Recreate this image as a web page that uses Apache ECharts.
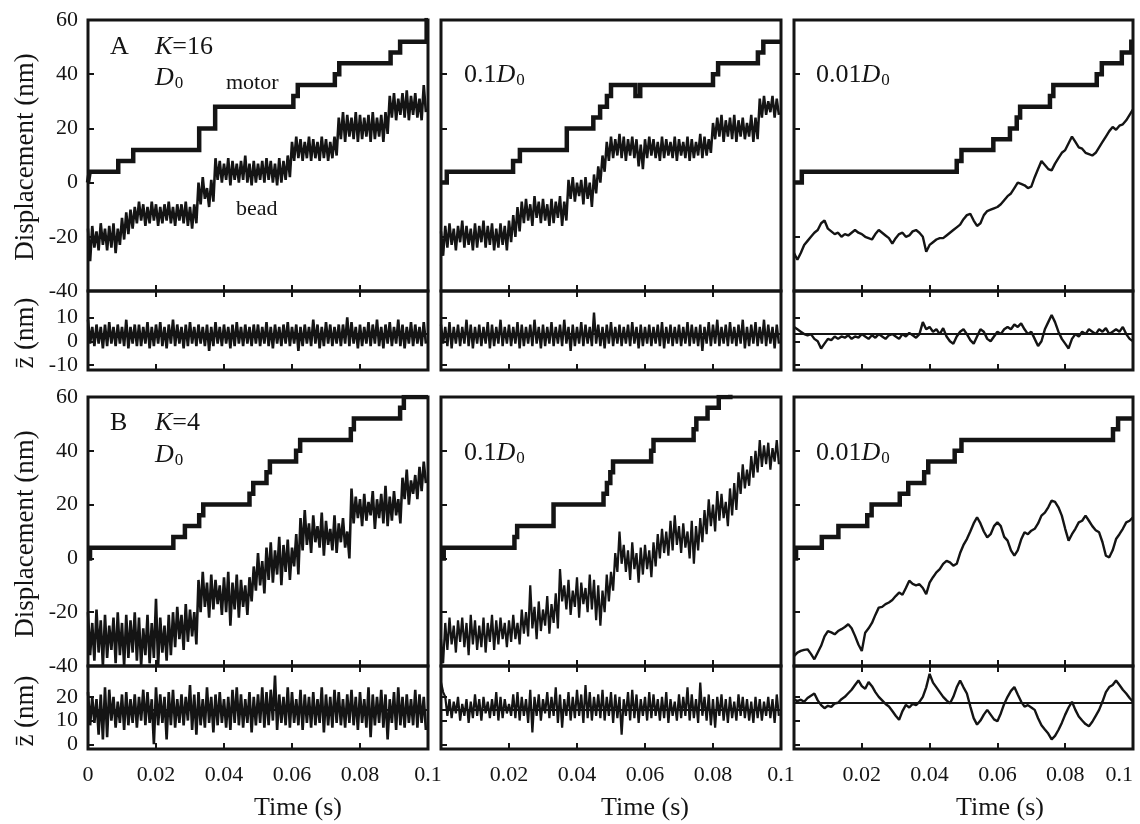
<!DOCTYPE html>
<html>
<head>
<meta charset="utf-8">
<script src="https://cdn.jsdelivr.net/npm/echarts@6/dist/echarts.min.js"></script>
<style>html,body{margin:0;background:#fff}#main{width:1140px;height:824px}</style>
</head>
<body>
<div id="main"></div>
<script>
// tick values
var timeTicks = [0, 0.02, 0.04, 0.06, 0.08, 0.1];
var timeLabelsB = [0.02, 0.04, 0.06, 0.08, 0.1];
var dispTicks = [-40, -20, 0, 20, 40, 60];
var zTicksA = [-10, 0, 10];
var zTicksB = [0, 10, 20];

// motor steps (time s, level nm)
var mA1T = [0, 0.0005, 0.0089, 0.0133, 0.0327, 0.0374, 0.0604, 0.0617, 0.0726, 0.0739, 0.089, 0.0918, 0.0996, 0.1];
var mA1Y = [0, 4, 8, 12, 20, 28, 32, 36, 40, 44, 48, 52, 60, 60];
var mA2T = [0, 0.0017, 0.0212, 0.0232, 0.037, 0.0448, 0.0468, 0.0488, 0.05, 0.0572, 0.0586, 0.08, 0.0815, 0.0932, 0.0948, 0.1];
var mA2Y = [0, 4, 8, 12, 20, 24, 28, 32, 36, 32, 36, 40, 44, 48, 52, 52];
var mA3T = [0, 0.0023, 0.048, 0.0494, 0.0588, 0.0637, 0.0657, 0.0667, 0.0755, 0.0765, 0.0893, 0.0908, 0.0967, 0.0995, 0.1];
var mA3Y = [0, 4, 8, 12, 16, 20, 24, 28, 32, 36, 40, 44, 48, 52, 52];
var mB1T = [0, 0.0006, 0.0251, 0.0285, 0.0327, 0.0339, 0.0475, 0.0486, 0.0525, 0.0535, 0.0612, 0.0624, 0.0773, 0.0782, 0.0918, 0.0929, 0.1];
var mB1Y = [0, 4, 8, 12, 16, 20, 24, 28, 32, 36, 40, 44, 48, 52, 56, 60, 60];
var mB2T = [0, 0.0008, 0.0216, 0.0224, 0.0331, 0.0478, 0.0488, 0.0498, 0.0506, 0.0618, 0.0625, 0.0743, 0.0751, 0.0784, 0.0817, 0.0851, 0.1];
var mB2Y = [0, 4, 8, 12, 20, 24, 28, 32, 36, 40, 44, 48, 52, 56, 60, 64, 64];
var mB3T = [0, 0.0006, 0.0082, 0.0131, 0.0216, 0.0229, 0.0312, 0.0337, 0.0384, 0.0396, 0.0474, 0.0494, 0.0941, 0.0956, 0.1];
var mB3Y = [0, 4, 8, 12, 16, 20, 24, 28, 32, 36, 40, 44, 48, 52, 52];

// noisy traces: upper / lower excursions, 80 samples over 0..0.1 s
var c1aBeadHi = [-17,-16,-18,-15,-17,-16,-15,-17, -13,-11,-10,
  -9,-7,-8,-9,-7,-8,-9,-8,-7,-9,-8,-8,-7,-9,-8, 0,2,-2,1,
  9,8,7,9,8,7,8,10,7,8,7,8,9,8,7,9,8,10,
  15,17,16,15,17,16,15,17,16,15,17,
  24,26,25,24,26,25,24,25,26,24,25,26,
  32,33,31,33,34,32,33,31,36];
var c1aBeadLo = [-29,-24,-25,-23,-25,-24,-26,-23, -21,-19,-17,
  -15,-14,-16,-15,-14,-16,-15,-14,-15,-16,-14,-15,-16,-17,-15, -8,-6,-9,-7,
  1,0,1,-1,1,0,1,0,-1,0,1,0,1,0,-1,0,1,2,
  8,9,8,9,8,9,8,9,8,9,10,
  16,15,17,16,15,16,17,15,16,17,15,18,
  24,23,25,24,23,25,24,23,26];
var c1aZHi = [9,6,7,6,7,8,6,7,6,9, 6,7,7,6,8,6,7,8,6,7, 9,7,6,7,8,6,7,6,7,6, 8,6,7,6,7,8,6,7,6,7,
  7,6,8,6,7,6,7,8,6,7, 6,7,6,9,7,6,8,7,6,7, 7,10,8,6,7,6,8,7,9,6, 7,8,6,9,7,6,8,7,6,8];
var c1aZLo = [-1,-2,-1,-3,-2,-1,-2,-1,-2,-3, -1,-2,-2,-1,-3,-2,-1,-2,-3,-1, -2,-1,-3,-2,-1,-2,-1,-2,-4,-2, -1,-2,-1,-3,-2,-1,-2,-1,-2,-1,
  -2,-1,-2,-3,-1,-2,-1,-2,-1,-4, -2,-1,-2,-1,-3,-2,-1,-2,-1,-2, -1,-2,-1,-3,-2,-1,-2,-1,-2,-3, -1,-2,-1,-2,-3,-1,-2,-1,-2,-1];

var c2aBeadHi = [-18,-16,-15,-17,-16,-14,-16,-17,-15,-16,-14,-16,-15,-17,-15,-16,-14,
  -12,-9, -7,-6,-8,-5,-7,-6,-8,-6,-7,-5,-7, 1,2,0,1,2,0, 3,6,10,
  15,17,16,18,17,16,17,16,14,16,17,16,15,17,16,15,17,16,15,17,16,15,18,17,16,
  22,24,25,23,24,25,23,24,22,25,24, 31,32,30,32,31];
var c2aBeadLo = [-27,-24,-23,-25,-22,-24,-23,-25,-24,-22,-24,-23,-25,-24,-23,-25,-22,
  -20,-18, -15,-14,-16,-13,-15,-14,-16,-15,-13,-16,-14, -6,-7,-5,-8,-6,-9, -4,0,4,
  8,9,10,9,8,10,9,6,5,9,10,9,8,9,10,9,8,10,9,8,9,10,9,10,11,
  16,17,15,17,16,15,17,16,17,15,16, 24,25,26,24,25];
var c2aZHi = [7,6,8,6,7,6,9,7,6,7, 6,8,7,6,9,6,7,6,8,7, 6,7,9,6,7,6,8,6,7,9, 6,7,6,8,7,6,12,7,6,7,
  8,6,7,6,7,8,6,7,6,7, 6,7,8,6,7,6,7,6,8,7, 6,7,6,8,7,9,6,7,8,6, 7,9,6,7,8,6,9,7,6,7];
var c2aZLo = [-1,-2,-3,-1,-2,-1,-2,-3,-1,-2, -1,-3,-2,-1,-2,-1,-2,-1,-3,-2, -1,-2,-1,-3,-2,-1,-2,-1,-2,-1, -4,-2,-1,-2,-1,-2,-1,-2,-3,-1,
  -2,-1,-2,-1,-2,-1,-3,-2,-1,-2, -1,-2,-3,-1,-2,-1,-2,-1,-2,-1, -2,-4,-1,-2,-1,-2,-1,-2,-1,-2, -1,-3,-2,-1,-2,-1,-2,-1,-3,-1];

var c1bBeadHi = [-20,-24,-19,-23,-21,-25,-22,-20,-24,-21,-23,-20,-22,-26,-21,-24,-15,-22,-25,-21,
  -20,-18,-21,-17,-19,-20,
  -8,-5,-9,-6,-8,-10,-7,-5,-9,-6,-8,-10,-7,
  -3,2,-1,4,6,3,8,5,7,4,9,
  15,18,13,16,12,17,14,11,16,13,15,10,
  26,23,22,24,21,25,22,24,27,23,25,22,
  30,33,29,31,34,36];
var c1bBeadLo = [-36,-38,-35,-40,-37,-34,-39,-36,-40,-37,-35,-38,-40,-36,-39,-37,-40,-35,-38,-36,
  -33,-30,-34,-31,-29,-32,
  -20,-18,-22,-19,-17,-21,-20,-25,-19,-22,-18,-21,-16,
  -12,-10,-13,-8,-9,-6,-10,-5,-8,-3,-6,
  3,5,2,6,4,1,5,3,2,6,4,0,
  13,15,12,14,16,11,15,13,12,14,16,13,
  22,20,24,22,25,28];
var c1bZHi = [22,20,19,21,24,23,20,18,21,22, 19,21,20,23,22,19,24,21,20,22, 23,19,21,20,25,21,22,19,24,20, 21,22,19,20,23,24,21,19,22,20,
  21,24,22,23,29,21,20,24,22,19, 23,21,20,22,19,24,21,20,23,22, 19,21,23,20,22,19,24,21,20,23, 21,19,22,24,20,21,19,23,21,20];
var c1bZLo = [8,9,4,2,3,10,7,9,6,8, 9,7,10,8,9,0,8,9,2,8, 7,9,8,10,6,4,8,7,9,5, 8,9,7,6,9,8,7,9,5,8,
  9,7,8,10,6,9,8,7,9,8, 6,9,7,8,9,5,8,7,9,8, 7,9,8,6,9,7,3,8,9,7, 2,9,6,8,7,9,8,7,9,6];

var c2bBeadHi = [-30,-24,-22,-25,-23,-22,-24,-21,-23,-25,-22,-24,-21,-23,-22,-24,
  -23,-21,-24,-19,-20,-10,-18,-16,-19,-14,-17,-13,
  -4,-10,-8,-12,-7,-9,-11,-6,-8,-10,-12,-6,
  -5,2,10, 5,3,6,2,4,5,3,6,
  9,11,10,14,16,12,13,10,14,12,15,
  18,22,20,25,24,21,26,28,
  32,35,33,38,40,44,42,43,41,44];
var c2bBeadLo = [-39,-34,-32,-35,-31,-33,-36,-32,-34,-33,-35,-31,-34,-32,-30,-33,
  -31,-30,-32,-28,-29,-26,-30,-27,-25,-28,-24,-26,
  -16,-19,-21,-18,-22,-17,-20,-19,-23,-25,-20,-16,
  -12,-5,-2, -5,-8,-4,-9,-6,-4,-7,-3,
  0,2,1,3,5,2,4,0,-2,3,6,
  9,12,10,14,15,12,16,18,
  24,26,27,30,32,34,35,33,36,35];
var c2bZHi = [26,20,19,18,20,17,19,18,21,19, 20,18,19,22,20,19,17,21,22,20, 19,23,20,21,19,22,20,24,21,19,
  22,20,23,21,25,22,20,21,23,20, 22,21,20,19,22,23,21,19,20,22, 21,19,20,22,19,18,21,20,24,21,
  19,26,20,21,19,20,21,19,20,18, 21,20,19,18,20,19,18,20,19,21];
var c2bZLo = [22,12,11,13,10,12,9,11,12,10, 13,11,12,10,11,13,12,11,10,12, 9,5,12,10,13,11,12,9,7,12,
  10,11,12,9,11,10,12,11,10,12, 9,11,4,12,10,11,9,12,10,11, 12,10,11,9,12,10,11,12,10,11,
  9,12,10,8,7,12,10,9,11,10, 12,11,10,9,11,10,12,11,9,12];

// smoother traces, 101 samples over 0..0.1 s
var c3aBead = [-26,-28.5,-26,-23,-21.5,-20,-18.5,-17.5,-15,-14, -17,-18,-19,-18.5,-20,-19,-19.5,-18.5,-17.5,-18.5,
  -19,-20,-20.5,-21,-19,-17.5,-18.5,-19.5,-20.5,-22.5, -20.5,-19,-18.5,-20,-19.5,-18,-17.5,-18.5,-20,-25.5,
  -23,-22,-21,-20.5,-20.5,-19.5,-18.5,-17.5,-16.5,-15.5, -13.5,-12,-11.5,-14,-16,-15,-12,-10.5,-10,-9.5,
  -9,-8,-6.5,-5,-4,-2,0,-0.5,-1,-2, -1.5,2,5,8,6.5,5,4.5,7,9,11,
  12,14.5,17,15,13,12.5,11,10.5,10,11, 13,15,17,19,20.5,19.5,21,21.5,23,25, 27];
var c3aZ = [6,5,4,3,2.5,3,1,0,-3,-1, 1,0.5,2,1,2,1.5,2.5,1,2,1.5, 3,2,1,2.5,1.5,3,2,1,2.5,3,
  2,1,3,2,3.5,2.5,1.5,3,8,5, 6,4,5,3,5.5,2,0,-1,2,4, 5,3,0.5,-1,2,5,4,1,0,2,
  4,3,5,6,5,7,6,7.5,5,3, 4,1,-2,0,5,8,11,8,4,1, -1,-3,1,3,2,4,3,5,4,3, 5,4,5.5,3,4,5,4,6,3,1, 0];
var c3bBead = [-36.3,-35,-34.4,-34,-33.8,-35.5,-37.5,-35,-32.5,-29, -27,-27.5,-28.2,-27,-26.3,-25.5,-24.5,-26,-28.8,-32,
  -34.4,-27.6,-26,-24,-21,-18.3,-18,-17,-16.4,-15.5, -14,-12.7,-13.5,-11,-8.3,-9.5,-10,-9.6,-11,-13.3,
  -9,-7,-5.2,-4,-2,-0.9,-1.5,-2.7,-2,2, 5,7.2,10,13,15.3,13,10,7.8,9,12,
  13.4,12,8,6.6,3,1,3,7,9.7,9, 10.3,11,13,15.9,17,19,21.5,21,19,15.9,
  11,6.6,9,11,13.4,14,15.9,14,12,10.5, 9.7,6,1,0.4,3,7.2,9,11,13.4,14, 15.3];
var c3bZ = [18.9,18.2,18.8,17.9,19.5,20.5,21.4,18.5,16.5,15.2, 16.2,15.8,17.2,17.5,19,20,21.5,23,25,26.9,
  24.5,23.4,26.2,24.5,22,20,18.5,17,15.9,14, 12,10.3,14,16.6,15.5,17,16.5,17.9,20,24,
  29.7,26,24,22,20,18.5,17.2,20,24,26.9, 24,21.4,16,11,8.3,10,12.5,14.5,12.5,10.5,
  9.7,13,17,20,22.5,24.1,21,18,15.9,16.5, 15.5,14.5,11,8,6.2,4.5,2.1,3.5,6,9,
  12.5,15.5,17.9,14.5,11.7,10,8.5,7.6,9.5,12, 14.5,18,22,24.1,25,26.9,25,23,21.4,19.5, 17.9];

// mean lines in the z panels
var zMeanA = [3, 3, 3];
var zMeanB = [14.5, 14.5, 17.5];

var F = '"Liberation Serif", "Times New Roman", serif';
var INK = '#141414';
var T_END = 0.1;

function zigzag(hi, lo) {
  var n = hi.length, dt = T_END / n, out = [];
  for (var i = 0; i < n; i++) {
    out.push([i * dt, hi[i]]);
    out.push([(i + 0.5) * dt, lo[i]]);
  }
  return out;
}
function trace(vals) {
  var dt = T_END / (vals.length - 1);
  return vals.map(function (v, i) { return [i * dt, v]; });
}
function steps(ts, ys) {
  return ts.map(function (t, i) { return [t, ys[i]]; });
}
function fmt(v) { return String(+v.toFixed(2)); }

var colLeft = [88, 441, 794], colWidth = [340, 340, 339];
var rows = [
  { dTop: 20, dH: 271, zTop: 291, zH: 79, zMin: -12, zMax: 21, zTicks: zTicksA },
  { dTop: 397, dH: 269, zTop: 666, zH: 83, zMin: -2, zMax: 33, zTicks: zTicksB }
];

var panels = [
  { r: 0, c: 0, mT: mA1T, mY: mA1Y, bead: zigzag(c1aBeadHi, c1aBeadLo), bw: 2.6, z: zigzag(c1aZHi, c1aZLo), zw: 2.6, mean: zMeanA[0] },
  { r: 0, c: 1, mT: mA2T, mY: mA2Y, bead: zigzag(c2aBeadHi, c2aBeadLo), bw: 2.5, z: zigzag(c2aZHi, c2aZLo), zw: 2.4, mean: zMeanA[1] },
  { r: 0, c: 2, mT: mA3T, mY: mA3Y, bead: trace(c3aBead), bw: 2.4, z: trace(c3aZ), zw: 2.4, mean: zMeanA[2] },
  { r: 1, c: 0, mT: mB1T, mY: mB1Y, bead: zigzag(c1bBeadHi, c1bBeadLo), bw: 2.6, z: zigzag(c1bZHi, c1bZLo), zw: 2.6, mean: zMeanB[0] },
  { r: 1, c: 1, mT: mB2T, mY: mB2Y, bead: zigzag(c2bBeadHi, c2bBeadLo), bw: 2.2, z: zigzag(c2bZHi, c2bZLo), zw: 2.2, mean: zMeanB[1] },
  { r: 1, c: 2, mT: mB3T, mY: mB3Y, bead: trace(c3bBead), bw: 2.4, z: trace(c3bZ), zw: 2.4, mean: zMeanB[2] }
];

var grids = [], xAxes = [], yAxes = [], series = [];
var tickStyle = { color: INK, width: 2 };

function addGrid(left, top, width, height, yMin, yMax, yTicks, yLabels, topTicks, xLabels, lastCol) {
  var gi = grids.length;
  grids.push({ left: left, top: top, width: width, height: height, show: true, outerBoundsMode: 'none',
    borderColor: INK, borderWidth: 3, backgroundColor: 'transparent' });
  var xi = xAxes.length;
  xAxes.push({ gridIndex: gi, type: 'value', min: 0, max: T_END, position: 'bottom',
    axisLine: { show: false, onZero: false }, splitLine: { show: false },
    axisTick: { inside: true, length: 6, lineStyle: tickStyle, customValues: timeTicks },
    axisLabel: { show: !!xLabels, customValues: xLabels || timeTicks, margin: 15,
      alignMaxLabel: lastCol ? 'right' : null,
      fontFamily: F, fontSize: 22, color: INK, formatter: fmt } });
  if (topTicks) {
    xAxes.push({ gridIndex: gi, type: 'value', min: 0, max: T_END, position: 'top',
      axisLine: { show: false, onZero: false }, splitLine: { show: false },
      axisTick: { inside: true, length: 6, lineStyle: tickStyle, customValues: timeTicks },
      axisLabel: { show: false } });
  }
  var yi = yAxes.length;
  yAxes.push({ gridIndex: gi, type: 'value', min: yMin, max: yMax,
    axisLine: { show: false, onZero: false }, splitLine: { show: false },
    axisTick: { inside: true, length: 6, lineStyle: tickStyle, customValues: yTicks },
    axisLabel: { show: yLabels, customValues: yTicks, margin: 10,
      fontFamily: F, fontSize: 22, color: INK } });
  return { x: xi, y: yi };
}

panels.forEach(function (p) {
  var row = rows[p.r];
  var left = colLeft[p.c], w = colWidth[p.c];
  var d = addGrid(left, row.dTop, w, row.dH, -40, 60, dispTicks, p.c === 0, false, null, false);
  var xl = p.r === 1 ? (p.c === 0 ? timeTicks : timeLabelsB) : null;
  var z = addGrid(left, row.zTop, w, row.zH, row.zMin, row.zMax, row.zTicks, p.c === 0, true, xl, p.c === 2);
  series.push({ type: 'line', xAxisIndex: d.x, yAxisIndex: d.y, data: p.bead, symbol: 'none',
    lineStyle: { color: INK, width: p.bw }, z: 2 });
  series.push({ type: 'line', xAxisIndex: d.x, yAxisIndex: d.y, data: steps(p.mT, p.mY), step: 'end',
    symbol: 'none', lineStyle: { color: INK, width: 4.5, join: 'miter' }, z: 3 });
  series.push({ type: 'line', xAxisIndex: z.x, yAxisIndex: z.y, data: p.z, symbol: 'none',
    lineStyle: { color: INK, width: p.zw }, z: 2,
    markLine: { silent: true, symbol: 'none', animation: false, label: { show: false },
      lineStyle: { color: INK, width: 2, type: 'solid' }, data: [{ yAxis: p.mean }] } });
});

var rich = {
  i: { fontStyle: 'italic', fontSize: 26, fontFamily: F, fill: INK },
  s: { fontSize: 17, fontFamily: F, fill: INK, padding: [12, 0, 0, 1] }
};
function label(x, y, text, size) {
  return { type: 'text', x: x, y: y, z: 10,
    style: { text: text, fontFamily: F, fontSize: size || 26, fill: INK, textVerticalAlign: 'middle', rich: rich } };
}
function yName(x, y, text) {
  return { type: 'text', x: x, y: y, rotation: Math.PI / 2, z: 10,
    style: { text: text, fontFamily: F, fontSize: 27, fill: INK, textAlign: 'center', textVerticalAlign: 'middle' } };
}
function xName(x, y) {
  return { type: 'text', x: x, y: y, z: 10,
    style: { text: 'Time (s)', fontFamily: F, fontSize: 26, fill: INK, textAlign: 'center', textVerticalAlign: 'middle' } };
}

var graphics = [
  label(110, 47, 'A'), label(155, 47, '{i|K}=16'), label(155, 78, '{i|D}{s|0}'),
  label(226, 83, 'motor', 22), label(236, 209, 'bead', 22),
  label(464, 75, '0.1{i|D}{s|0}'), label(816, 75, '0.01{i|D}{s|0}'),
  label(110, 423, 'B'), label(155, 423, '{i|K}=4'), label(155, 455, '{i|D}{s|0}'),
  label(464, 453, '0.1{i|D}{s|0}'), label(816, 453, '0.01{i|D}{s|0}'),
  yName(26, 157, 'Displacement (nm)'), yName(26, 534, 'Displacement (nm)'),
  yName(26, 333, 'z\u0304 (nm)'), yName(26, 711, 'z\u0304 (nm)'),
  xName(298, 808), xName(645, 808), xName(1000, 808)
];

var myChart = echarts.init(document.getElementById('main'));
myChart.setOption({
  animation: false,
  backgroundColor: '#fff',
  grid: grids,
  xAxis: xAxes,
  yAxis: yAxes,
  series: series,
  graphic: graphics
});
</script>
</body>
</html>
